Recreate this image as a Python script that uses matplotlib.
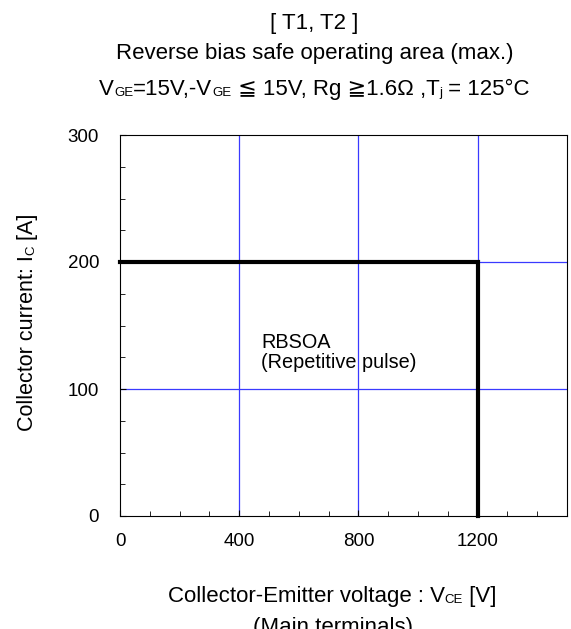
import matplotlib
matplotlib.use('Agg')
import matplotlib.pyplot as plt
from matplotlib.ticker import MultipleLocator
from matplotlib.transforms import IdentityTransform

plt.rcParams['font.family'] = ['Liberation Sans', 'DejaVu Sans', 'Noto Sans CJK JP']

# RBSOA boundary (V, A)
vce = [0, 1200, 1200]
ic = [200, 200, 0]

x_ticks = [0, 400, 800, 1200]
y_ticks = [0, 100, 200, 300]
grid_v = [400, 800, 1200]
grid_i = [100, 200]

W, H = 571, 629
fig = plt.figure(figsize=(W / 100, H / 100), dpi=100)
ax = fig.add_axes([120 / W, 1 - 516 / H, 447 / W, 381 / H])
renderer = fig.canvas.get_renderer()


def text_width(s, size):
    # pad with x so that spaces at the ends are counted
    t1 = fig.text(0, 0, 'x' + s + 'x', fontsize=size)
    t2 = fig.text(0, 0, 'xx', fontsize=size)
    w = t1.get_window_extent(renderer).width - t2.get_window_extent(renderer).width
    t1.remove()
    t2.remove()
    return w


def draw_runs(x, y, runs, rotation=0):
    # runs: (string, fontsize, baseline shift px); x, y in px from top-left,
    # x is the centre of the whole run, y the baseline
    widths = [text_width(s, size) for s, size, dy in runs]
    total = sum(widths)
    if rotation == 0:
        pos = x - total / 2
        for (s, size, dy), w in zip(runs, widths):
            fig.text(pos, H - y + dy, s, fontsize=size, ha='left', va='baseline',
                     transform=IdentityTransform())
            pos += w
    else:
        pos = (H - y) - total / 2
        for (s, size, dy), w in zip(runs, widths):
            fig.text(x - dy, pos, s, fontsize=size, ha='left', va='baseline', rotation=90,
                     rotation_mode='anchor', transform=IdentityTransform())
            pos += w


ax.set_xlim(0, 1500)
ax.set_ylim(0, 300)
ax.set_xticks(x_ticks)
ax.set_yticks(y_ticks)
ax.xaxis.set_minor_locator(MultipleLocator(100))
ax.yaxis.set_minor_locator(MultipleLocator(25))
ax.tick_params(which='both', direction='in', top=False, right=False, labelsize=13.5)
ax.tick_params(axis='y', which='both', pad=15)
ax.tick_params(axis='x', which='both', pad=12)
ax.tick_params(which='major', length=4)
ax.tick_params(which='minor', length=3.5)

for v in grid_v:
    ax.axvline(v, color='#3a3aff', lw=0.9, zorder=1)
for c in grid_i:
    ax.axhline(c, color='#3a3aff', lw=0.9, zorder=1)

ax.plot(vce, ic, color='black', lw=3.0, solid_joinstyle='miter', zorder=3, clip_on=False)

ax.text(473, 132.3, 'RBSOA', fontsize=14.3, ha='left', va='baseline')
ax.text(473, 116.5, '(Repetitive pulse)', fontsize=14.3, ha='left', va='baseline')

ts = 16
ss = 9.5
draw_runs(314, 29, [('[ T1, T2 ]', ts, 0)])
draw_runs(315, 59, [('Reverse bias safe operating area (max.)', ts, 0)])
draw_runs(314.5, 95, [('V', ts, 0), ('GE', ss, -1), ('=15V,-V', ts, 0), ('GE', ss, -1),
                      (' \u2266 15V, Rg \u22671.6\u03a9 ,T', ts, 0), ('j', ss, -1),
                      (' = 125\u00b0C', ts, 0)])

draw_runs(33, 322, [('Collector current: I', 15.5, 0), ('C', ss, -1), (' [A]', 15.5, 0)], rotation=90)
draw_runs(332, 602, [('Collector-Emitter voltage : V', ts, 0), ('CE', ss, -1), (' [V]', ts, 0)])
draw_runs(333, 633, [('(Main terminals)', ts, 0)])

fig.savefig('out.png', dpi=100)
